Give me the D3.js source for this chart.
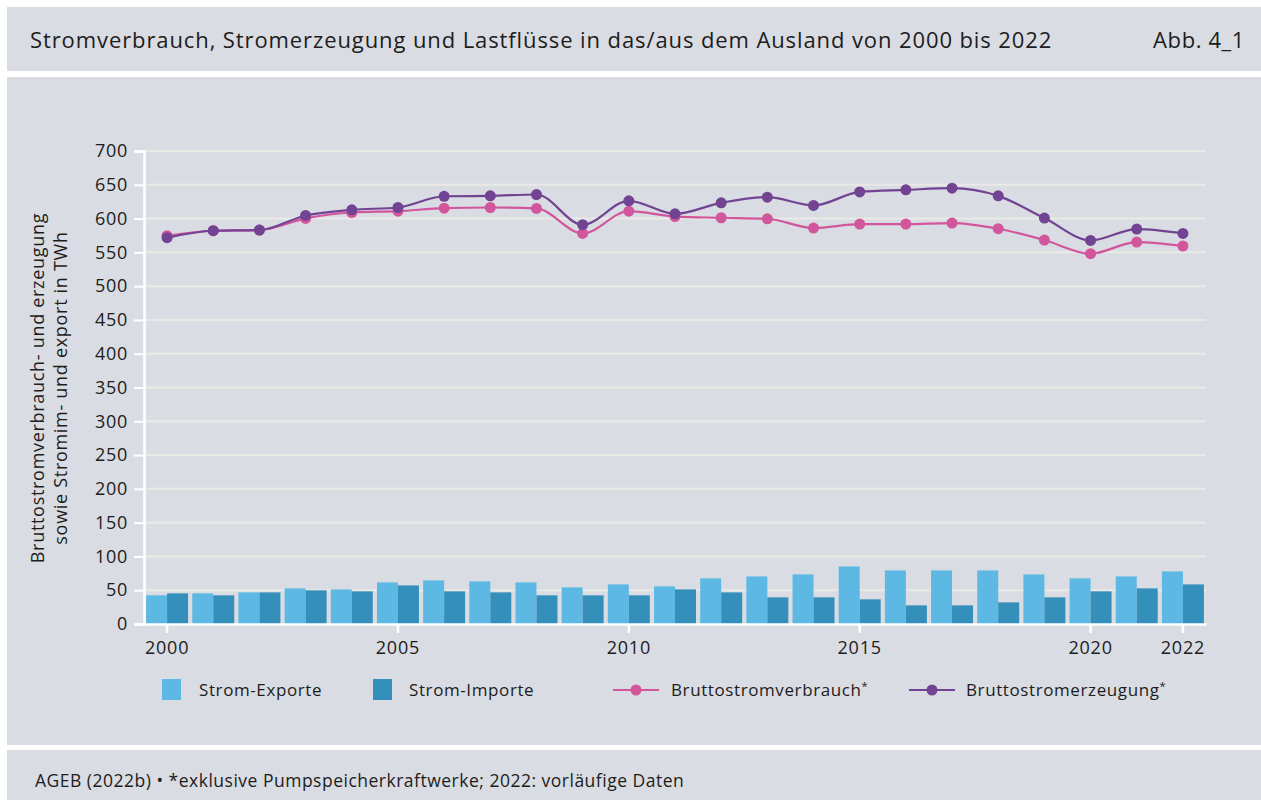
<!DOCTYPE html>
<html>
<head>
<meta charset="utf-8">
<script src="https://cdn.jsdelivr.net/npm/d3@7/dist/d3.min.js"></script>
<style>
  body { margin: 0; background: #fff; }
  svg { display: block; font-family: "Open Sans", sans-serif; }
</style>
</head>
<body>
<svg id="chart" width="1261" height="800"></svg>
<script>
// data (TWh)
const years = [2000, 2001, 2002, 2003, 2004, 2005, 2006, 2007, 2008, 2009, 2010, 2011,
  2012, 2013, 2014, 2015, 2016, 2017, 2018, 2019, 2020, 2021, 2022];
const exporte = [42.4, 45.3, 46.8, 52.7, 51.2, 61.6, 64.5, 63.1, 61.6, 54.2, 58.6, 55.7,
  67.5, 70.4, 73.4, 85.2, 79.3, 79.3, 79.3, 73.4, 67.5, 70.4, 77.8];
const importe = [45.3, 42.4, 46.8, 49.8, 48.3, 57.1, 48.3, 46.8, 42.4, 42.4, 42.4, 51.2,
  46.8, 39.4, 39.4, 36.5, 27.6, 27.6, 32.0, 39.4, 48.3, 52.7, 58.6];
const verbrauch = [574.6, 582, 583, 600.2, 609, 611, 615.4, 616.4, 615, 578, 611, 603,
  601.2, 599.7, 586, 591.8, 591.8, 593.3, 585, 568.2, 548, 565.2, 559.4];
const erzeugung = [571.7, 582, 583, 604.6, 613, 616.4, 633, 633.6, 635.6, 590.9, 626.3, 607,
  623.3, 631.7, 619.4, 639.5, 642.5, 645, 633.6, 600.7, 567.7, 584.5, 578];
const xTickYears = [2000, 2005, 2010, 2015, 2020, 2022];
const yTicks = [0, 50, 100, 150, 200, 250, 300, 350, 400, 450, 500, 550, 600, 650, 700];

const title = "Stromverbrauch, Stromerzeugung und Lastflüsse in das/aus dem Ausland von 2000 bis 2022";
const figNo = "Abb. 4_1";
const source = "AGEB (2022b) • *exklusive Pumpspeicherkraftwerke; 2022: vorläufige Daten";

const bg = "#d9dce3";
const textCol = "#1d1d1b";
const cExp = "#5db9e3", cImp = "#348fba", cVerb = "#d2569b", cErz = "#724392";

const svg = d3.select("#chart");

// panels
svg.append("rect").attr("x", 7).attr("y", 7).attr("width", 1254).attr("height", 64).attr("fill", bg);
svg.append("rect").attr("x", 7).attr("y", 77).attr("width", 1254).attr("height", 668).attr("fill", bg);
svg.append("rect").attr("x", 7).attr("y", 750).attr("width", 1254).attr("height", 50).attr("fill", bg);

svg.append("text").attr("x", 30).attr("y", 48).attr("fill", textCol)
  .style("font-size", "22px").style("letter-spacing", "0.9px").text(title);
svg.append("text").attr("x", 1245).attr("y", 48).attr("fill", textCol)
  .attr("text-anchor", "end").style("font-size", "22px").style("letter-spacing", "0.6px").text(figNo);
svg.append("text").attr("x", 35).attr("y", 787).attr("fill", textCol)
  .style("font-size", "17.5px").style("letter-spacing", "0.5px").text(source);

// scales
const x = d3.scaleBand().domain(years).range([144, 1206]).padding(0);
const xSub = d3.scaleBand().domain(["exp", "imp"]).range([0, x.bandwidth()]).paddingOuter(0.1);
const y = d3.scaleLinear().domain([0, 700]).range([624, 151]);
const cx = d => x(d) + x.bandwidth() / 2;

// grid
svg.append("g").selectAll("line").data(yTicks.filter(d => d > 0)).join("line")
  .attr("x1", 144).attr("x2", 1206)
  .attr("y1", d => y(d)).attr("y2", d => y(d))
  .attr("stroke", "#e9eae6").attr("stroke-width", 2);

// bars
const groups = svg.append("g").selectAll("g").data(years).join("g")
  .attr("transform", d => `translate(${x(d)},0)`);
groups.append("rect")
  .attr("x", xSub("exp")).attr("width", xSub.bandwidth())
  .attr("y", (d, i) => y(exporte[i])).attr("height", (d, i) => y(0) - y(exporte[i]))
  .attr("fill", cExp);
groups.append("rect")
  .attr("x", xSub("imp")).attr("width", xSub.bandwidth())
  .attr("y", (d, i) => y(importe[i])).attr("height", (d, i) => y(0) - y(importe[i]))
  .attr("fill", cImp);

// y axis
const yAxis = svg.append("g").attr("transform", "translate(144,0)")
  .call(d3.axisLeft(y).tickValues(yTicks).tickSize(10).tickPadding(6));
yAxis.select(".domain").attr("stroke", "#fff").attr("stroke-width", 2.5);
yAxis.selectAll(".tick line").attr("stroke", "#fff").attr("stroke-width", 2);
yAxis.selectAll(".tick text").attr("fill", textCol).style("font-size", "18px")
  .style("font-family", "Open Sans").style("letter-spacing", "0.7px");

// x axis
const xAxis = svg.append("g").attr("transform", "translate(0,624)")
  .call(d3.axisBottom(x).tickValues(xTickYears).tickSize(9).tickSizeOuter(0).tickPadding(8));
xAxis.select(".domain").attr("stroke", "#fff").attr("stroke-width", 2.5);
xAxis.selectAll(".tick line").attr("stroke", "#fff").attr("stroke-width", 2.5);
xAxis.selectAll(".tick text").attr("fill", textCol).style("font-size", "18px")
  .style("font-family", "Open Sans").style("letter-spacing", "0.8px");

// y title
const yTitle = svg.append("text").attr("transform", "translate(44,388) rotate(-90)")
  .attr("text-anchor", "middle").attr("fill", textCol)
  .style("font-size", "18px").style("letter-spacing", "0.7px");
yTitle.append("tspan").attr("x", 0).attr("y", 0).text("Bruttostromverbrauch- und erzeugung");
yTitle.append("tspan").attr("x", 0).attr("y", 23).text("sowie Stromim- und export in TWh");

// lines
const line = d3.line().x(d => cx(d[0])).y(d => y(d[1])).curve(d3.curveMonotoneX);
[[verbrauch, cVerb], [erzeugung, cErz]].forEach(([vals, col]) => {
  const pts = years.map((yr, i) => [yr, vals[i]]);
  svg.append("path").datum(pts).attr("d", line)
    .attr("fill", "none").attr("stroke", col).attr("stroke-width", 2.2);
  svg.append("g").selectAll("circle").data(pts).join("circle")
    .attr("cx", d => cx(d[0])).attr("cy", d => y(d[1])).attr("r", 5.5).attr("fill", col);
});

// legend
const lg = svg.append("g").style("font-size", "17px").style("letter-spacing", "0.6px").attr("fill", textCol);
lg.append("rect").attr("x", 162).attr("y", 679).attr("width", 19).attr("height", 21).attr("fill", cExp);
lg.append("text").attr("x", 199).attr("y", 696).text("Strom-Exporte");
lg.append("rect").attr("x", 373).attr("y", 679).attr("width", 19).attr("height", 21).attr("fill", cImp);
lg.append("text").attr("x", 409).attr("y", 696).text("Strom-Importe");
[[613, cVerb, "Bruttostromverbrauch", 671], [909, cErz, "Bruttostromerzeugung", 966]].forEach(([lx, col, lab, tx]) => {
  lg.append("line").attr("x1", lx).attr("x2", lx + 46).attr("y1", 690).attr("y2", 690)
    .attr("stroke", col).attr("stroke-width", 2.2);
  lg.append("circle").attr("cx", lx + 23).attr("cy", 690).attr("r", 5.5).attr("fill", col);
  const t = lg.append("text").attr("x", tx).attr("y", 696).text(lab);
  t.append("tspan").attr("dy", -6).style("font-size", "11px").text("*");
});
</script>
</body>
</html>
